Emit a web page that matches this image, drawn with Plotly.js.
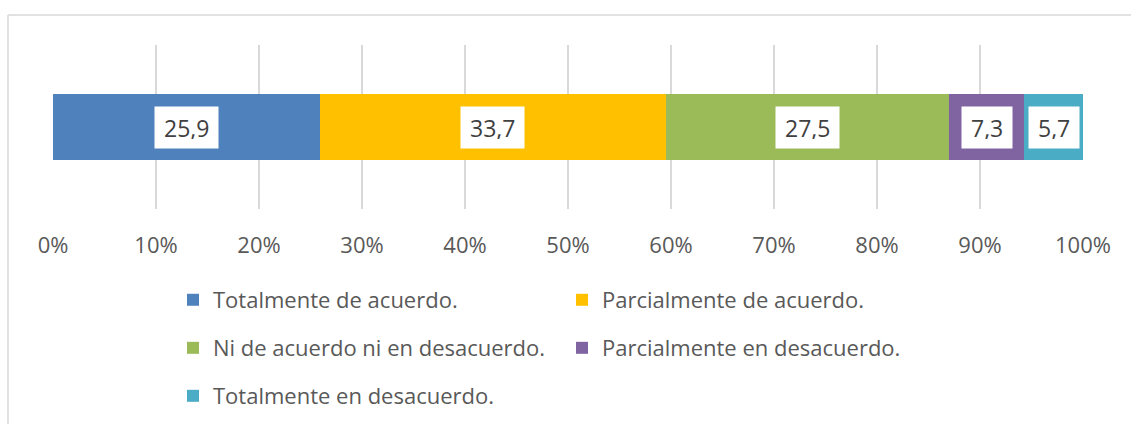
<!DOCTYPE html>
<html>
<head>
<meta charset="utf-8">
<script src="https://cdn.plot.ly/plotly-3.0.1.min.js"></script>
<style>html,body{margin:0;padding:0;background:#fff;}#chart{width:1131px;height:424px;}</style>
</head>
<body>
<div id="chart"></div>
<script>
const categories = ["Totalmente de acuerdo.", "Parcialmente de acuerdo.", "Ni de acuerdo ni en desacuerdo.", "Parcialmente en desacuerdo.", "Totalmente en desacuerdo."];
const values = [25.9, 33.7, 27.5, 7.3, 5.7];
const colors = ["#4F81BD", "#FFC000", "#9BBB59", "#8064A2", "#4BACC6"];
const legendRows = ["legend", "legend", "legend2", "legend2", "legend3"];
const tickVals = [0, 10, 20, 30, 40, 50, 60, 70, 80, 90, 100];
const tickText = ["0%", "10%", "20%", "30%", "40%", "50%", "60%", "70%", "80%", "90%", "100%"];

const total = values.reduce((a, b) => a + b, 0);

const traces = categories.map((c, i) => ({
  type: 'bar',
  orientation: 'h',
  name: c,
  x: [values[i]],
  y: ['q'],
  marker: {color: colors[i], line: {width: 0}},
  legend: legendRows[i],
  hoverinfo: 'none'
}));

let cum = 0;
const annotations = values.map((v, i) => {
  const center = (cum + v / 2) / total * 100;
  cum += v;
  return {
    x: center, y: 'q', xref: 'x', yref: 'y',
    text: v.toFixed(1).replace('.', ','),
    showarrow: false,
    bgcolor: '#ffffff',
    borderpad: 9,
    height: 23,
    font: {family: 'Open Sans', size: 23, color: '#404040'}
  };
});

const legendFont = {family: 'Open Sans', size: 22, color: '#595959'};
const legendBase = {
  orientation: 'h', xanchor: 'left', yanchor: 'middle', yref: 'container', x: 0.1165,
  entrywidth: 344, entrywidthmode: 'pixels',
  font: legendFont, bgcolor: 'rgba(0,0,0,0)', traceorder: 'normal'
};

const layout = {
  width: 1131, height: 424,
  margin: {l: 53, r: 48, t: 45, b: 215},
  paper_bgcolor: '#ffffff', plot_bgcolor: '#ffffff',
  barmode: 'stack', barnorm: 'percent', bargap: 0.6,
  separators: ',.',
  font: {family: 'Open Sans', size: 22, color: '#595959'},
  xaxis: {
    range: [0, 100], tickvals: tickVals, ticktext: tickText,
    showgrid: true, gridcolor: '#d9d9d9', gridwidth: 1.5,
    zeroline: false, showline: false, ticks: '',
    ticklabelstandoff: 21,
    tickfont: {family: 'Open Sans', size: 22, color: '#595959'},
    fixedrange: true
  },
  yaxis: {
    range: [-0.5, 0.5], showticklabels: false, showgrid: false,
    zeroline: false, showline: false, ticks: '', fixedrange: true
  },
  showlegend: true,
  legend: Object.assign({}, legendBase, {y: 0.2925}),
  legend2: Object.assign({}, legendBase, {y: 0.1792}),
  legend3: Object.assign({}, legendBase, {y: 0.066}),
  annotations: annotations,
  shapes: [
    {type: 'line', xref: 'paper', yref: 'paper', x0: -0.0437, x1: 1.06, y0: 1.1829, y1: 1.1829,
     line: {color: '#d9d9d9', width: 1.5}, layer: 'below'},
    {type: 'line', xref: 'paper', yref: 'paper', x0: -0.0437, x1: -0.0437, y0: 1.1829, y1: -1.4,
     line: {color: '#d9d9d9', width: 1.5}, layer: 'below'}
  ]
};

Plotly.newPlot('chart', traces, layout, {displayModeBar: false, staticPlot: true});
</script>
</body>
</html>
